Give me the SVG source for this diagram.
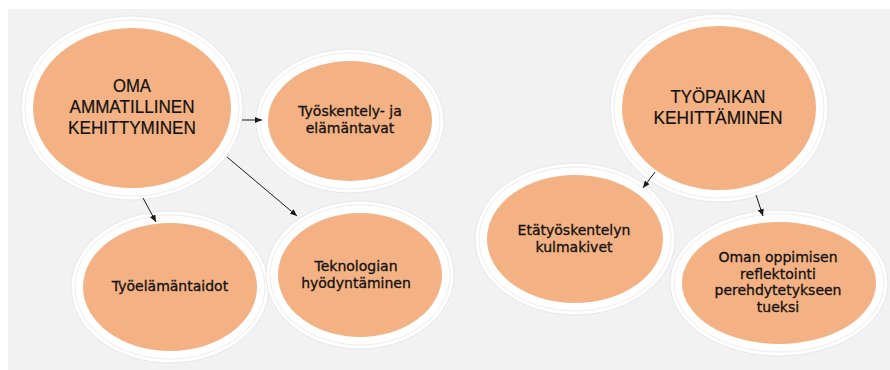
<svg xmlns="http://www.w3.org/2000/svg" width="890" height="370" viewBox="0 0 890 370">
<style>
.ring1{fill:#ffffff;stroke:#e4e4e4;stroke-width:0.9}
.ring2{fill:#ffffff;stroke:#eaeaea;stroke-width:0.9}
.core{fill:#f4b183;stroke:none}
.title{font-family:"Liberation Sans",Arial,sans-serif;font-size:18px;fill:#111111;stroke:#111111;stroke-width:0.2;text-anchor:middle}
.sub{font-family:"DejaVu Sans",Verdana,sans-serif;font-size:14px;fill:#111111;stroke:#111111;stroke-width:0.3;text-anchor:middle}
.conn{stroke:#1a1a1a;stroke-width:1;fill:none;marker-end:url(#arr)}
</style>
<defs>
<marker id="arr" markerWidth="7" markerHeight="6" refX="7" refY="3" orient="auto" markerUnits="userSpaceOnUse">
<path d="M0,0 L7,3 L0,6 z" fill="#1a1a1a"/>
</marker>
</defs>
<rect x="0" y="0" width="890" height="370" fill="#ffffff"/>
<rect x="8" y="9" width="882" height="361" fill="#f2f2f2"/>

<g id="node-oma">
<ellipse class="ring1" cx="132" cy="108" rx="111" ry="92"/>
<ellipse class="ring2" cx="132" cy="108" rx="107" ry="88"/>
<ellipse class="core" cx="132" cy="108" rx="99" ry="80"/>
<text class="title" x="132" y="92" textLength="38" lengthAdjust="spacingAndGlyphs">OMA</text>
<text class="title" x="132" y="113" textLength="125" lengthAdjust="spacingAndGlyphs">AMMATILLINEN</text>
<text class="title" x="132" y="134" textLength="128" lengthAdjust="spacingAndGlyphs">KEHITTYMINEN</text>
</g>

<g id="node-tyoskentely">
<ellipse class="ring1" cx="350" cy="121" rx="94" ry="72"/>
<ellipse class="ring2" cx="350" cy="121" rx="90" ry="68"/>
<ellipse class="core" cx="350" cy="121" rx="82" ry="60"/>
<text class="sub" x="350" y="116">Työskentely- ja</text>
<text class="sub" x="350" y="133">elämäntavat</text>
</g>

<g id="node-tyoelamantaidot">
<ellipse class="ring1" cx="170" cy="287" rx="99" ry="76"/>
<ellipse class="ring2" cx="170" cy="287" rx="95" ry="72"/>
<ellipse class="core" cx="170" cy="287" rx="87" ry="64"/>
<text class="sub" x="170" y="291">Työelämäntaidot</text>
</g>

<g id="node-teknologian">
<ellipse class="ring1" cx="360" cy="275" rx="94" ry="74"/>
<ellipse class="ring2" cx="360" cy="275" rx="90" ry="70"/>
<ellipse class="core" cx="360" cy="275" rx="82" ry="62"/>
<text class="sub" x="356" y="271">Teknologian</text>
<text class="sub" x="356" y="288">hyödyntäminen</text>
</g>

<g id="node-tyopaikan">
<ellipse class="ring1" cx="719" cy="108" rx="109" ry="94"/>
<ellipse class="ring2" cx="719" cy="108" rx="105" ry="90"/>
<ellipse class="core" cx="719" cy="108" rx="97" ry="82"/>
<text class="title" x="718" y="103" textLength="95" lengthAdjust="spacingAndGlyphs">TYÖPAIKAN</text>
<text class="title" x="718" y="124" textLength="129" lengthAdjust="spacingAndGlyphs">KEHITTÄMINEN</text>
</g>

<g id="node-etatyoskentelyn">
<ellipse class="ring1" cx="575" cy="239" rx="100" ry="76"/>
<ellipse class="ring2" cx="575" cy="239" rx="96" ry="72"/>
<ellipse class="core" cx="575" cy="239" rx="88" ry="64"/>
<text class="sub" x="574" y="235">Etätyöskentelyn</text>
<text class="sub" x="574" y="252">kulmakivet</text>
</g>

<g id="node-oman-oppimisen">
<ellipse class="ring1" cx="779" cy="283" rx="109" ry="73"/>
<ellipse class="ring2" cx="779" cy="283" rx="105" ry="69"/>
<ellipse class="core" cx="779" cy="283" rx="97" ry="61"/>
<text class="sub" x="778" y="262">Oman oppimisen</text>
<text class="sub" x="778" y="279">reflektointi</text>
<text class="sub" x="778" y="295">perehdytetykseen</text>
<text class="sub" x="778" y="312">tueksi</text>
</g>

<g id="connectors">
<line class="conn" x1="242" y1="120" x2="262" y2="120"/>
<line class="conn" x1="227" y1="157" x2="297" y2="216"/>
<line class="conn" x1="143" y1="198" x2="156" y2="222"/>
<line class="conn" x1="655" y1="172" x2="643" y2="188"/>
<line class="conn" x1="756" y1="195" x2="763" y2="216"/>
</g>
</svg>
